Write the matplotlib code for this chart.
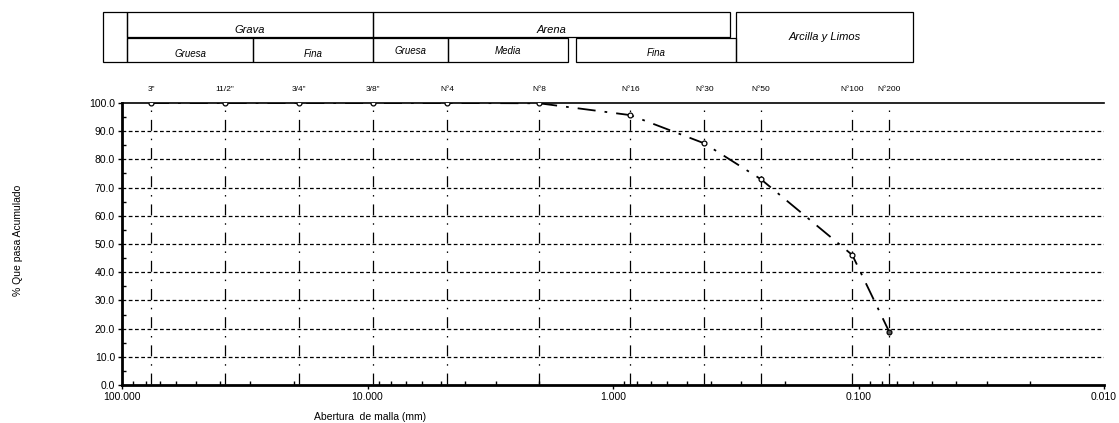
import numpy as np
import matplotlib.pyplot as plt
from matplotlib.patches import Rectangle
from matplotlib.ticker import FixedLocator, NullFormatter

plt.rcParams['font.family'] = ['Liberation Sans', 'DejaVu Sans']

# sieve data (openings as placed on the chart)
sieves = ['3"', '11/2"', '3/4"', '3/8"', 'N°4', 'N°8', 'N°16', 'N°30', 'N°50', 'N°100', 'N°200']
openings = [76.2, 38.1, 19.05, 9.525, 4.75, 2.0, 0.85, 0.425, 0.25, 0.106, 0.075]
passing = [100.0, 100.0, 100.0, 100.0, 100.0, 99.9, 95.7, 85.7, 73.0, 46.1, 18.9]

W, H = 1119, 423
fig = plt.figure(figsize=(W / 100, H / 100), dpi=100)
ax = fig.add_axes([122 / W, 1 - 385 / H, (1104 - 122) / W, (385 - 103) / H])

ax.set_xscale('log')
ax.set_xlim(100, 0.01)
ax.set_ylim(0, 100)

# horizontal grid
for yv in np.arange(10, 100, 10):
    ax.axhline(yv, color='black', lw=0.9, ls=(0, (3, 2)), zorder=1)

# sieve verticals: dash just above each gridline, dot in between
for xo in openings:
    ax.axvline(xo, color='black', lw=0.9, ls=(21.8, (8.8, 6.3, 1.2, 6.25)), zorder=1)

ax.plot(openings, passing, color='black', lw=1.3, ls=(0, (10, 5, 1.5, 5)), zorder=3)
ax.plot(openings[:-1], passing[:-1], 'o', ms=3.5, mfc='white', mec='black', mew=0.9, zorder=4)
ax.plot(openings[-1:], passing[-1:], 'o', ms=3.5, mfc='#555555', mec='black', mew=0.9, zorder=4)

for name, xo in zip(sieves, openings):
    ax.text(xo, 103.5, name, ha='center', va='bottom', fontsize=6)

ax.set_xticks([100, 10, 1, 0.1, 0.01])
ax.set_xticklabels(['100.000', '10.000', '1.000', '0.100', '0.010'], fontsize=7.5)
ax.xaxis.set_minor_formatter(NullFormatter())
ax.set_yticks(np.arange(0, 101, 10))
ax.set_yticklabels(['%.1f' % v for v in np.arange(0, 101, 10)], fontsize=7.5)
ax.yaxis.set_minor_locator(FixedLocator(np.arange(5, 100, 10)))
ax.tick_params(which='major', direction='out', length=3, width=1, pad=2)
ax.tick_params(which='minor', direction='in', length=3, width=1)
ax.tick_params(axis='x', which='minor', top=False)

for side in ['left', 'bottom']:
    ax.spines[side].set_linewidth(2)
ax.spines['right'].set_visible(False)
ax.spines['top'].set_linewidth(1.2)

fig.text(370 / W, 1 - 417 / H, 'Abertura  de malla (mm)', ha='center', va='center', fontsize=7.5)
fig.text(18 / W, 1 - 240 / H, '% Que pasa Acumulado', rotation=90, ha='center', va='center', fontsize=7.5)

# header table
def box(x0, y0, x1, y1, label=None, size=7.5, ty=None):
    fig.patches.append(Rectangle((x0 / W, 1 - y1 / H), (x1 - x0) / W, (y1 - y0) / H,
                                 transform=fig.transFigure, fill=False, ec='black', lw=0.9))
    if label:
        yy = (y0 + y1) / 2 if ty is None else ty
        fig.text((x0 + x1) / 2 / W, 1 - yy / H, label, ha='center', va='center',
                 fontsize=size, style='italic')

box(103, 12, 127, 62)
box(127, 12, 373, 37, 'Grava', 8, ty=30)
box(127, 38, 253, 62, 'Gruesa', 7, ty=54)
box(253, 38, 373, 62, 'Fina', 7, ty=54)
box(373, 12, 730, 37, 'Arena', 8, ty=30)
box(373, 38, 448, 62, 'Gruesa', 7, ty=51)
box(448, 38, 568, 62, 'Media', 7, ty=51)
box(576, 38, 736, 62, 'Fina', 7, ty=53)
box(736, 12, 913, 62, 'Arcilla y Limos', 8)

fig.savefig('out.png', dpi=100)
